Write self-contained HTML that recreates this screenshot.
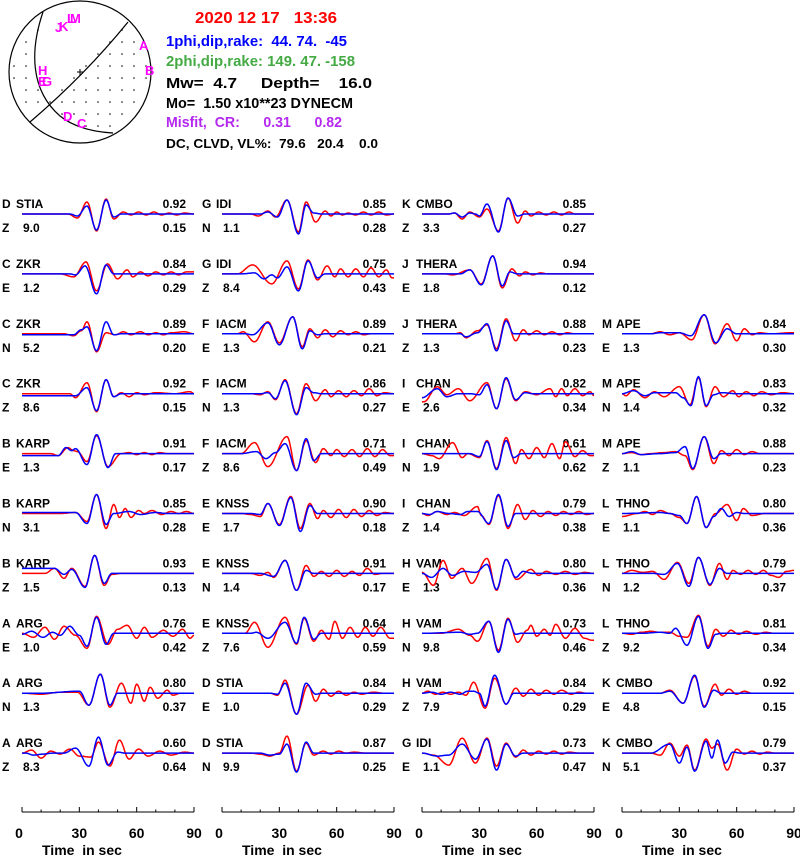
<!DOCTYPE html>
<html><head><meta charset="utf-8"><style>
html,body{margin:0;padding:0;background:#fff;}
svg{display:block;font-family:"Liberation Sans",sans-serif;}
.lb{font-size:12px;font-weight:bold;fill:#000;}
text{white-space:pre;}
</style></head><body>
<svg id="fig" width="800" height="856" viewBox="0 0 800 856" xmlns="http://www.w3.org/2000/svg" xml:space="preserve">
<g id="beachball"></g>
<g font-weight="bold">
<text x="195" y="23" font-size="16" fill="#ff0000" textLength="142" lengthAdjust="spacingAndGlyphs">2020 12 17   13:36</text>
<text x="166" y="46" font-size="15" fill="#0000ff" textLength="181" lengthAdjust="spacingAndGlyphs">1phi,dip,rake:  44. 74.  -45</text>
<text x="166" y="66" font-size="15" fill="#44aa44" textLength="189" lengthAdjust="spacingAndGlyphs">2phi,dip,rake: 149. 47. -158</text>
<text x="166" y="88" font-size="15" fill="#000" textLength="206" lengthAdjust="spacingAndGlyphs">Mw=  4.7     Depth=    16.0</text>
<text x="166" y="108" font-size="15" fill="#000" textLength="187" lengthAdjust="spacingAndGlyphs">Mo=  1.50 x10**23 DYNECM</text>
<text x="166" y="127" font-size="15" fill="#b428f0" textLength="176" lengthAdjust="spacingAndGlyphs">Misfit,  CR:      0.31      0.82</text>
<text x="166" y="148" font-size="13" fill="#000" textLength="212" lengthAdjust="spacingAndGlyphs">DC, CLVD, VL%:  79.6   20.4    0.0</text>
</g>
<g id="panels"></g>
<g id="axes"></g>
</svg>
<script>
const letters=["D","C","C","C","B","B","B","A","A","A","G","G","F","F","F","E","E","E","D","D","K","J","J","I","I","I","H","H","H","G","M","M","M","L","L","L","K","K"];
const stations=["STIA","ZKR","ZKR","ZKR","KARP","KARP","KARP","ARG","ARG","ARG","IDI","IDI","IACM","IACM","IACM","KNSS","KNSS","KNSS","STIA","STIA","CMBO","THERA","THERA","CHAN","CHAN","CHAN","VAM","VAM","VAM","IDI","APE","APE","APE","THNO","THNO","THNO","CMBO","CMBO"];
const comps=["Z","E","N","Z","E","N","Z","E","N","Z","N","Z","E","N","Z","E","N","Z","E","N","Z","E","Z","E","N","Z","E","N","Z","E","E","N","Z","E","N","Z","E","N"];
const shifts=["9.0","1.2","5.2","8.6","1.3","3.1","1.5","1.0","1.3","8.3","1.1","8.4","1.3","1.3","8.6","1.7","1.4","7.6","1.0","9.9","3.3","1.8","1.3","2.6","1.9","1.4","1.3","9.8","7.9","1.1","1.3","1.4","1.1","1.1","1.2","9.2","4.8","5.1"];
const corrs=["0.92","0.84","0.89","0.92","0.91","0.85","0.93","0.76","0.80","0.60","0.85","0.75","0.89","0.86","0.71","0.90","0.91","0.64","0.84","0.87","0.85","0.94","0.88","0.82","0.61","0.79","0.80","0.73","0.84","0.73","0.84","0.83","0.88","0.80","0.79","0.81","0.92","0.79"];
const varRed=["0.15","0.29","0.20","0.15","0.17","0.28","0.13","0.42","0.37","0.64","0.28","0.43","0.21","0.27","0.49","0.18","0.17","0.59","0.29","0.25","0.27","0.12","0.23","0.34","0.62","0.38","0.36","0.46","0.29","0.47","0.30","0.32","0.23","0.36","0.37","0.34","0.15","0.37"];
const panelCol=[0,0,0,0,0,0,0,0,0,0,1,1,1,1,1,1,1,1,1,1,2,2,2,2,2,2,2,2,2,2,3,3,3,3,3,3,3,3];
const panelRow=[0,1,2,3,4,5,6,7,8,9,0,1,2,3,4,5,6,7,8,9,0,1,2,3,4,5,6,7,8,9,2,3,4,5,6,7,8,9];
// observed (red) traces: extrema "time_sec:amplitude"
const redTraces=[
"24:0 29:-4 34:12 39:-17 44:15 48:-5 53:2 57:-1 61:2 65:-1 69:2 73:-1 77:1 81:-1 85:1 90:0",
"20:0 27:-3 33.5:12 39:-17 44.7:10 50:-5 55:4 58:-3 62:2 66:-2 70:2 74:-1 78:2 82:-1 86:2 90:2",
"22:0 27:-2 31:3 34:12 39:-18 44:1 49:-1 53:2 57:-1 62:2 66:-1 70:1 74:-1 78:1 85:2 90:0",
"25:0 28:-4 34:11 39:-18 44:14 48:-3 52:1 56:-3 60:1 64:-1 70:1 80:0 88:2 90:0",
"15:0 19:-2 24:6 27:3 29:2 34:-8 39:18 45:-13 52:0 56:1 60:-1 64:1 68:-1 72:1 76:0",
"20:0 28:1 34:-8 39:19 44:-15 48:9 51:-4 54:5 57:-4 61:3 64:0 68:3 73:-1 78:2 82:0 86:2 90:0",
"12:0 17:5 22:-5 26:5 33:-13 38:18 43:-12 47:-1 52:0",
"0:0 6:-4 12:6 17:-6 22:7 28:-2 34:-15 39:17 45:-11 50:4 55:8 60:-5 64:6 68:-4 74:3 79:-3 84:4 88:-5 90:-2",
"0:0 10:-1 20:1 29:1 35:-12 41:19 46:-14 52:10 57:-10 60:9 64:-8 67:6 71:-5 76:3 79:-2 83:0",
"0:0 5:3 10:-5 15:2 20:-1 25:4 30:-3 36:-4 40:11 46:-13 51:13 56:-6 61:4 66:-3 72:2 78:-2 85:1 90:0",
"15:0 19:-2 24:3 28:-3 34:14 40:-18 44:12 49:-8 54:3 57:-2 60:2 63:-1 66:1 70:-1 74:2 78:-1 82:2 86:-1 90:0",
"8:0 16:9 26:-10 34:13 40:-15 45:14 50:-6 55:8 59:-3 62:5 66:-3 70:5 74:-3 78:6 82:-3 86:4 89:-4",
"8:0 11:2 17:-8 24:12 30:-9 37:17 42:-13 46:5 50:-4 54:4 58:-3 62:3 66:-1 70:2 74:-1 78:0",
"15:0 20:-1 24:2 28:-6 33:14 39:-20 44:10 49:-7 54:4 57:-3 61:3 65:-3 69:3 73:-2 77:5 81:-2 85:1 90:0",
"6:0 10:0 17:11 24:-13 34:17 39:-17 44:13 49:-9 53:5 57:-2 60:4 64:-3 68:4 72:-3 76:5 80:-3 84:4 88:-2",
"10:0 15:-1 20:-3 24:10 30:-11 36:17 41:-15 46:10 50:-5 53:3 57:-4 61:4 65:-4 69:4 73:-3 77:3 81:-2 85:1 90:0",
"15:0 20:-2 24:1 27:-4 33:13 39:-17 44:8 48:-3 52:2 56:-3 60:3 64:-3 68:2 72:-2 76:5 80:-1 84:0",
"12:0 17:11 24:-14 33:16 39:-11 43:15 48:-8 52:3 56:-6 59:12 63:-5 67:6 71:-4 75:6 79:-3 83:6 88:-5",
"25:0 29:-2 33:13 39:-21 45:8 49:-8 53:4 57:-3 61:2 65:-2 69:1 73:-1 79:1 85:0",
"15:0 20:-1 25:-3 30:0 34:17 39:-18 44:10 48:-2 53:2 57:-1 61:2 65:0 69:1 75:0",
"14:0 17:1 21:-5 25:2 30:-3 34:5 40:-17 45:16 50:-9 54:3 57:-2 61:2 65:-1 69:2 73:-1 77:2 80:0",
"12:0 16:-1 25:4 31:-10 37:18 42:-14 47:5 51:-2 54:2 58:-1 62:1 66:0",
"17:0 20:1 23:-4 29:3 34:9 39:-15 44:15 49:-7 53:4 56:-1 60:3 64:-1 68:2 72:-1 76:1 80:0",
"0:-8 1:-8 8:7 13:-1 19:5 25:-7 34:11 39:-15 44:15 49:-7 54:2 60:-1 67:5 70:-3 73:5 76:-2 80:5 84:-2 88:2 90:-2",
"0:0 5:-2 9:-5 16:11 21:-4 24:0 30:-4 34:13 39:-15 44:16 49:-10 52:4 56:-5 60:6 64:-4 68:10 72:-5 75:12 80:-3 84:3 88:-2",
"0:0 3:-2 8:2 13:-1 17:1 22:-2 29:7 31:-2 35:-11 40:18 45:-15 50:9 54:-6 58:3 62:-3 66:2 70:-2 74:2 78:-1 82:2 86:-1 90:0",
"0:1 6:-12 11:13 15.5:-5 21:5 26:-10 34:15 39:-17 44:14 49.5:-6 57:4 61:-2 65:2 70:-1 75:2 80:-1 85:1 90:0",
"0:0 10:0 19:4 25:-2 29:-8 35:12 40:-17 45:15 50:-9 55:3 57:8 60:-3 64:4 67:-2 70:9 75:-5 80:5 85:-5 89:-7",
"0:0 3:2 7:-1 11:1 15:-1 19:1 23:-2 27:11 33:-15 38:15 44:-11 49:5 53:-3 57:4 61:-2 65:3 69:-1 73:3 78:-1 82:1 86:0",
"0:0 6:-2 14:-12 21:15 28:-10 34:15 39:-13 44:10 49:-4 53:3 57:-2 61:2 65:-1 69:2 73:-1 77:1 82:0",
"15:0 20:2 25:-1 30:1 36.5:-6 43:19 48.7:-10 55:10 60:-7 64:5 68:-1 72:1 78:0 88:1",
"0:0 2:-2 6:4 12:-4 17:2 22:-3 30:7 35.6:-11 40:16 44:-13 48.7:7 53:-3 58:3 61:-3 65:2 69:-2 73:2 78:-1 84:1 90:0",
"0:0 5:1 10:-1 15:0 22:1 28:2 33:-2 37:-16 43:17 48:-10 52:3 56:-2 60:4 64:-1 68:2 72:0",
"0:-3 8:0 12:2 16:-1 20:3 25:0 30:-4 34:-10 39:17 44:-14 49:0 55:9 60:-7 63.5:5 68:-2 75:0",
"0:0 5:3 11:1 16:2 22:-6 29:11 35:-10 40:16 46:-12 51:10 55:-6 58:3 62:-1 66:3 70:-1 74:3 78:-2 82:-4 86:2 90:3",
"0:0 5:-1 10:1 15:2 20:1 25:1 30:-3 34:-4 40:18 45:-13 49:4 53:-3 57:3 61:-1 65:2 70:-1 75:1 80:0",
"0:0 20:0 25:3 32:-10 38:17 43:-13 48.7:9 52:-2 56:4 60:-1 64:2 68:0",
"0:0 15:0 20:-2 25:10 30:-3 34:8 38:-17 44:14 47:5 50:9 55:-17 60:4 64:-1 68:2 72:-1 76:1 80:0"];
// synthetic (blue) traces
const blueTraces=[
"25:0 29:-2 34:8 39:-16 44:14 48:-3 52:0",
"25:0 28:-1 33:8 39:-20 44:9 48:0",
"27:-1 31:4 34:7 39:-17 44:12 48:-1 52:0",
"28:-2 34:6 39:-17 44:14 48:-3 52:0",
"19:-2 23:6 26:3 28:5 34:-11 39:19 45:-14 49:0",
"28:1 34:-10 39:19 44:-11 48:0 56:2 62:-1 70:1 76:0",
"17:5 22:-1 26:4 33:-14 38:18 43:-10 47:0",
"0:-1 5:2 11:-4 16:1 20:-2 25:7 30:-2 34:-13 39:16 44:-11 48:0",
"10:0 30:2 35:-12 41:19 46:-12 50:0",
"2:0 6:-2 11:-1 16:0 22:0 28:5 35:-13 40:16 45:-12 50:1 54:0",
"20:0 24:2 29:-3 34:14 40:-20 44:9 48:1 52:0",
"10:0 17:1 22:-5 26:-1 29:-4 34:7 40:-17 45:13 50:-4 54:0",
"12:0 16:-1 24:11 30:-11 37:17 42:-15 46:3 50:-1 54:0",
"20:0 24:1 28:-5 33:13 39:-21 44:6 48:1 52:0",
"10:0 18:2 23:-5 28:1 33:10 39:-17 44:15 48:-7 52:0",
"15:0 20:-1 24:10 30:-12 36:16 41:-18 46:8 50:0",
"20:0 27:-3 33:13 39:-17 44:3 48:0",
"15:0 18:1 24:-5 33:11 39:-10 43:16 48:-6 52:0",
"25:0 29:-1 33:10 39:-21 44:10 49:-1 52:0",
"20:0 25:-2 30:-1 34:9 39:-19 44:11 48:0",
"14:0 17:1 21:-3 25:1 28:0 30:-2 34:10 40:-18 45:16 50:-2 54:0",
"20:0 25:4 31:-11 37:18 42:-12 46:2 50:0",
"20:0 23:-3 29:1 34:10 39:-17 44:13 48:0",
"0:-4 8:5 13:-3 19:0 25:0 30:-1 34:9 39:-15 44:16 49:-6 54:1 58:0",
"0:0 25:0 30:-3 34:12 39:-16 44:13 48:-4 52:0",
"0:0 4:-1 8:2 14:0 20:-1 24:2 29:2 35:-10 40:19 45:-13 49:0",
"0:0 5:-4 11:5 16:-2 22:2 28:1 34:9 39:-16 44:14 49:-4 53:2 58:0",
"0:0 20:1 25:-1 29:0 35:12 40:-19 45:14 49:-1 52:0",
"0:0 5:1 10:-1 15:1 20:-1 24:2 27:2 30:0 33:-13 38:18 44:-11 48:0",
"0:0 8:-3 14:-2 21:9 28:-6 34:14 39:-17 44:9 49:-3 53:0",
"15:0 20:1 30:1 36:-2 43:19 49:-9 55:5 60:0",
"0:0 6:3 12:-2 17:1 22:1 28:1 32:-4 36:-12 40:17 44:-12 48:-1 52:1 60:0",
"0:0 5:2 10:-1 20:0 28:1 33:7 37:-15 43:17 48:-5 52:0",
"0:0 20:1 25:0 30:-2 34:-10 39:17 44:-14 48:-3 52:5 56:-3 60:1 64:0",
"0:0 16:0 22:-1 29:10 35:-13 40:16 46:-11 51:5 55:0",
"0:0 10:0 20:1 25:0 28:5 34:-12 40:17 45:-15 49:-1 52:0",
"0:0 20:0 25:2 32:-10 38:18 43:-14 48:3 52:0",
"0:0 15:0 25:9 30:-10 34:6 38:-18 44:12 47:-5 50:13 54:-10 58:1 62:0"];
const tickValues=[0,30,60,90];
const minorTicks=[10,20,40,50,70,80];

const NS="http://www.w3.org/2000/svg";
const colX=[22,222,422,622], colW=172, T_MAX=90;
function xOf(c,t){return colX[c]+t/T_MAX*colW;}
function rowY(r){return 214+r*59.9;}
function mk(tag,attrs,parent){const e=document.createElementNS(NS,tag);for(const k in attrs)e.setAttribute(k,attrs[k]);parent.appendChild(e);return e;}
function parse(s){return s.trim().split(/\s+/).map(p=>p.split(":").map(Number));}
function ampAt(pts,t){
  if(t<=pts[0][0])return pts[0][1];
  if(t>=pts[pts.length-1][0])return pts[pts.length-1][1];
  for(let i=0;i<pts.length-1;i++){const[a,b]=[pts[i],pts[i+1]];
    if(t>=a[0]&&t<=b[0]){const u=(t-a[0])/(b[0]-a[0]);return a[1]+(b[1]-a[1])*(1-Math.cos(Math.PI*u))/2;}}
  return 0;
}
function tracePath(str,c,base){const pts=parse(str);let d="";
  for(let t=0;t<=T_MAX+0.001;t+=0.4){d+=(d?"L":"M")+xOf(c,t).toFixed(1)+","+(base-ampAt(pts,t)).toFixed(1);}return d;}

const panels=document.getElementById("panels");
for(let i=0;i<stations.length;i++){
  const c=panelCol[i], r=panelRow[i], base=rowY(r), x0=colX[c]-20;
  const g=mk("g",{},panels);
  
  
  const t1=mk("text",{x:x0,y:base-6,class:"lb"},g);t1.textContent=letters[i];
  
  
  const t2=mk("text",{x:x0+14,y:base-6,class:"lb"},g);t2.textContent=stations[i];
  
  
  const t3=mk("text",{x:x0,y:base+18,class:"lb"},g);t3.textContent=comps[i];
  
  
  const t4=mk("text",{x:x0+21,y:base+18,class:"lb"},g);t4.textContent=shifts[i];
  
  
  const t5=mk("text",{x:colX[c]+164,y:base-6,class:"lb","text-anchor":"end"},g);t5.textContent=corrs[i];
  
  
  const t6=mk("text",{x:colX[c]+164,y:base+18,class:"lb","text-anchor":"end"},g);t6.textContent=varRed[i];
  
  
  const pr=mk("path",{d:tracePath(redTraces[i],c,base),fill:"none",stroke:"#ff0000","stroke-width":1.5},g);
  
  
  const pb=mk("path",{d:tracePath(blueTraces[i],c,base),fill:"none",stroke:"#0000ff","stroke-width":1.5},g);
  
  
}

const axes=document.getElementById("axes");
for(let c=0;c<4;c++){
  const g=mk("g",{},axes);
  
  
  const ln=mk("line",{x1:xOf(c,0),x2:xOf(c,90),y1:812,y2:812,stroke:"#000","stroke-width":1},g);
  
  
  tickValues.forEach(v=>{
    const tk=mk("line",{x1:xOf(c,v),x2:xOf(c,v),y1:807,y2:812,stroke:"#000"},g);
    
    
    const tl=mk("text",{x:xOf(c,v)-(v===0?3:0),y:838,"font-size":14,"font-weight":"bold","text-anchor":"middle"},g);
    tl.textContent=v;
    
    
  });
  minorTicks.forEach(v=>{
    const tk=mk("line",{x1:xOf(c,v),x2:xOf(c,v),y1:809.5,y2:812,stroke:"#000"},g);
    
    
  });
  const at=mk("text",{x:colX[c]+20,y:855,"font-size":14,"font-weight":"bold"},g);
  at.textContent="Time  in sec";
  
  
}

// beachball
const bb=document.getElementById("beachball");
const cx=80,cy=72,R=71;
const arc1=[[43,12],[37,40],[35,70],[42,95],[60,116],[85,128],[113,133]];
function arcX(y){
  for(let i=0;i<arc1.length-1;i++){const a=arc1[i],b=arc1[i+1];
    if(y>=a[1]&&y<=b[1]){const u=(y-a[1])/(b[1]-a[1]);return a[0]+(b[0]-a[0])*u;}}
  return y<12?43:113;
}
function leftOfArc(x,y){ if(y>133) return x<113+(y-133)*3; return x<arcX(y);}
function belowL2(x,y){ const ly=22+(128-x)/98*100; return y>ly;}
for(let y=cy-66;y<=cy+66;y+=12){for(let x=cx-66;x<=cx+66;x+=12){
  const dx=x-cx,dy=y-cy; if(dx*dx+dy*dy>(R-4)*(R-4))continue;
  if(leftOfArc(x,y)!==belowL2(x,y)){
    const d=mk("circle",{cx:x,cy:y,r:0.8,fill:"#000"},bb);
    
    
  }
}}
const circ=mk("circle",{cx:cx,cy:cy,r:R,fill:"none",stroke:"#000","stroke-width":1.2},bb);


const np1=mk("path",{d:"M43,12 C30,50 30,90 60,116 C75,128 95,132 113,133",fill:"none",stroke:"#000","stroke-width":1.2},bb);


const np2=mk("path",{d:"M128,22 Q85,75 30,122",fill:"none",stroke:"#000","stroke-width":1.2},bb);


const cross=mk("path",{d:"M77,72H83M80,69V75",stroke:"#000"},bb);


const bbLabels=[["J",55,32],["K",59,31],["L",67,23],["M",70,23],["A",139,50],["B",145,75],["H",38,75],["E",38,86],["G",42,86],["D",63,121],["C",77,128]];
bbLabels.forEach(l=>{const t=mk("text",{x:l[1],y:l[2],"font-size":13,"font-weight":"bold",fill:"#ff00ff"},bb);t.textContent=l[0];
  
  });
</script>
</body></html>
